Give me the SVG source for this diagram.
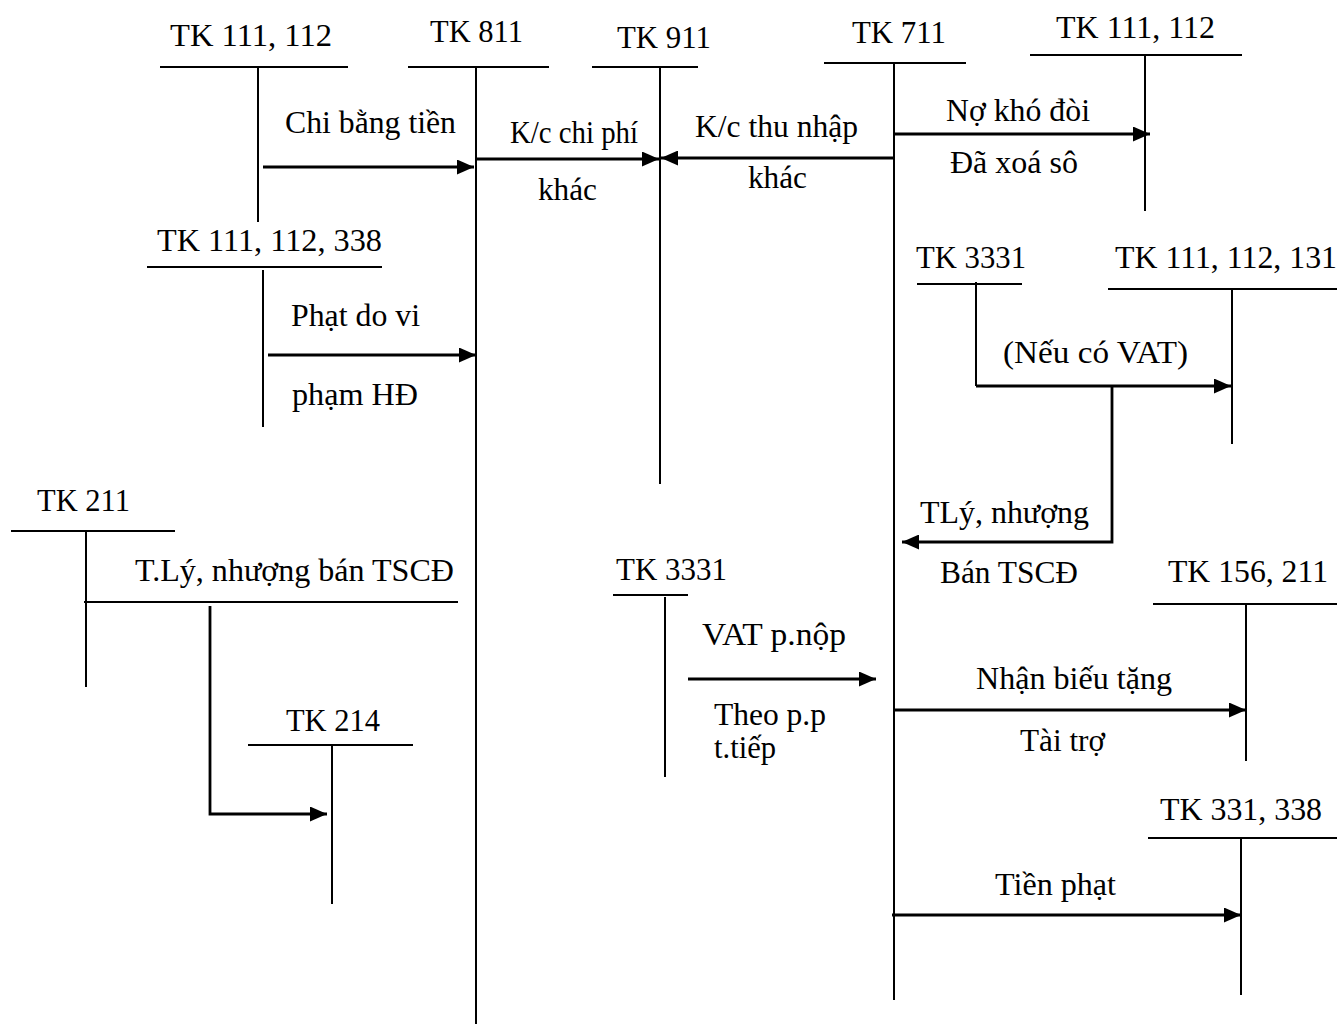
<svg xmlns="http://www.w3.org/2000/svg" width="1337" height="1025" viewBox="0 0 1337 1025">
<style>
text{font-family:"Liberation Serif","Times New Roman",serif;font-size:31px;fill:#000}
.t line,.t path{stroke:#000;stroke-width:2;fill:none}
.c line,.c path{stroke:#000;stroke-width:2.8;fill:none}
</style>
<defs>
<marker id="ah" markerUnits="userSpaceOnUse" markerWidth="19" markerHeight="15" refX="17" refY="7.5" orient="auto">
<path d="M0,0 L17,7.5 L0,15 z" fill="#000"/>
</marker>
</defs>
<rect width="1337" height="1025" fill="#fff"/>

<g id="tk111-112-a" class="t">
<text x="170" y="46" textLength="162" lengthAdjust="spacingAndGlyphs">TK 111, 112</text>
<line x1="160" y1="67" x2="348" y2="67"/>
<line x1="258" y1="67" x2="258" y2="222"/>
</g>
<g id="tk811" class="t">
<text x="430" y="42" textLength="93" lengthAdjust="spacingAndGlyphs">TK 811</text>
<line x1="408" y1="67" x2="549" y2="67"/>
<line x1="476" y1="67" x2="476" y2="1024"/>
</g>
<g id="tk911" class="t">
<text x="617" y="48" textLength="94" lengthAdjust="spacingAndGlyphs">TK 911</text>
<line x1="592" y1="67" x2="698" y2="67"/>
<line x1="660" y1="67" x2="660" y2="484"/>
</g>
<g id="tk711" class="t">
<text x="852" y="43" textLength="94" lengthAdjust="spacingAndGlyphs">TK 711</text>
<line x1="824" y1="63" x2="966" y2="63"/>
<line x1="894" y1="63" x2="894" y2="1000"/>
</g>
<g id="tk111-112-b" class="t">
<text x="1056" y="38" textLength="159" lengthAdjust="spacingAndGlyphs">TK 111, 112</text>
<line x1="1030" y1="55" x2="1242" y2="55"/>
<line x1="1145" y1="55" x2="1145" y2="211"/>
</g>
<g id="tk111-112-338" class="t">
<text x="157" y="251" textLength="225" lengthAdjust="spacingAndGlyphs">TK 111, 112, 338</text>
<line x1="147" y1="267" x2="382" y2="267"/>
<line x1="263" y1="270" x2="263" y2="427"/>
</g>
<g id="tk3331-a" class="t">
<text x="916" y="268" textLength="110" lengthAdjust="spacingAndGlyphs">TK 3331</text>
<line x1="917" y1="284" x2="1022" y2="284"/>
<line x1="976" y1="282" x2="976" y2="386"/>
</g>
<g id="tk111-112-131" class="t">
<text x="1115" y="268" textLength="222" lengthAdjust="spacingAndGlyphs">TK 111, 112, 131</text>
<line x1="1108" y1="289" x2="1337" y2="289"/>
<line x1="1232" y1="289" x2="1232" y2="444"/>
</g>
<g id="tk211" class="t">
<text x="37" y="511" textLength="93" lengthAdjust="spacingAndGlyphs">TK 211</text>
<line x1="11" y1="531" x2="175" y2="531"/>
<line x1="86" y1="531" x2="86" y2="687"/>
</g>
<g id="tk214" class="t">
<text x="286" y="731" textLength="94" lengthAdjust="spacingAndGlyphs">TK 214</text>
<line x1="248" y1="745" x2="413" y2="745"/>
<line x1="332" y1="746" x2="332" y2="904"/>
</g>
<g id="tk3331-b" class="t">
<text x="616" y="580" textLength="111" lengthAdjust="spacingAndGlyphs">TK 3331</text>
<line x1="613" y1="595" x2="688" y2="595"/>
<line x1="665" y1="597" x2="665" y2="777"/>
</g>
<g id="tk156-211" class="t">
<text x="1168" y="582" textLength="160" lengthAdjust="spacingAndGlyphs">TK 156, 211</text>
<line x1="1153" y1="604" x2="1337" y2="604"/>
<line x1="1246" y1="604" x2="1246" y2="761"/>
</g>
<g id="tk331-338" class="t">
<text x="1160" y="820" textLength="162" lengthAdjust="spacingAndGlyphs">TK 331, 338</text>
<line x1="1148" y1="838" x2="1337" y2="838"/>
<line x1="1241" y1="838" x2="1241" y2="995"/>
</g>

<g id="connectors" class="c">
<line x1="263" y1="167" x2="474" y2="167" marker-end="url(#ah)"/>
<line x1="476" y1="159" x2="659" y2="159" marker-end="url(#ah)"/>
<line x1="894" y1="158" x2="661" y2="158" marker-end="url(#ah)"/>
<line x1="894" y1="134" x2="1150" y2="134" marker-end="url(#ah)"/>
<line x1="268" y1="355" x2="476" y2="355" marker-end="url(#ah)"/>
<path d="M976,386 H1231" marker-end="url(#ah)"/>
<path d="M1112,386 V542 H902" marker-end="url(#ah)"/>
<line x1="84" y1="602" x2="458" y2="602" style="stroke-width:2"/>
<path d="M210,606 V814 H327" marker-end="url(#ah)"/>
<line x1="688" y1="679" x2="876" y2="679" marker-end="url(#ah)"/>
<line x1="894" y1="710" x2="1246" y2="710" marker-end="url(#ah)"/>
<line x1="892" y1="915" x2="1241" y2="915" marker-end="url(#ah)"/>
</g>

<g id="labels">
<text x="285" y="133" textLength="171" lengthAdjust="spacingAndGlyphs">Chi bằng tiền</text>
<text x="510" y="143" textLength="128" lengthAdjust="spacingAndGlyphs">K/c chi phí</text>
<text x="538" y="200" textLength="59" lengthAdjust="spacingAndGlyphs">khác</text>
<text x="695" y="137" textLength="163" lengthAdjust="spacingAndGlyphs">K/c thu nhập</text>
<text x="748" y="188" textLength="59" lengthAdjust="spacingAndGlyphs">khác</text>
<text x="946" y="121" textLength="144" lengthAdjust="spacingAndGlyphs">Nợ khó đòi</text>
<text x="950" y="173" textLength="128" lengthAdjust="spacingAndGlyphs">Đã xoá sô</text>
<text x="291" y="326" textLength="129" lengthAdjust="spacingAndGlyphs">Phạt do vi</text>
<text x="292" y="405" textLength="126" lengthAdjust="spacingAndGlyphs">phạm HĐ</text>
<text x="1003" y="363" textLength="185" lengthAdjust="spacingAndGlyphs">(Nếu có VAT)</text>
<text x="920" y="523" textLength="169" lengthAdjust="spacingAndGlyphs">TLý, nhượng</text>
<text x="940" y="583" textLength="138" lengthAdjust="spacingAndGlyphs">Bán TSCĐ</text>
<text x="135" y="581" textLength="319" lengthAdjust="spacingAndGlyphs">T.Lý, nhượng bán TSCĐ</text>
<text x="702" y="645" textLength="144" lengthAdjust="spacingAndGlyphs">VAT p.nộp</text>
<text x="714" y="725" textLength="112" lengthAdjust="spacingAndGlyphs">Theo p.p</text>
<text x="714" y="758" textLength="62" lengthAdjust="spacingAndGlyphs">t.tiếp</text>
<text x="976" y="689" textLength="196" lengthAdjust="spacingAndGlyphs">Nhận biếu tặng</text>
<text x="1020" y="751" textLength="85" lengthAdjust="spacingAndGlyphs">Tài trợ</text>
<text x="995" y="895" textLength="121" lengthAdjust="spacingAndGlyphs">Tiền phạt</text>
</g>
</svg>
